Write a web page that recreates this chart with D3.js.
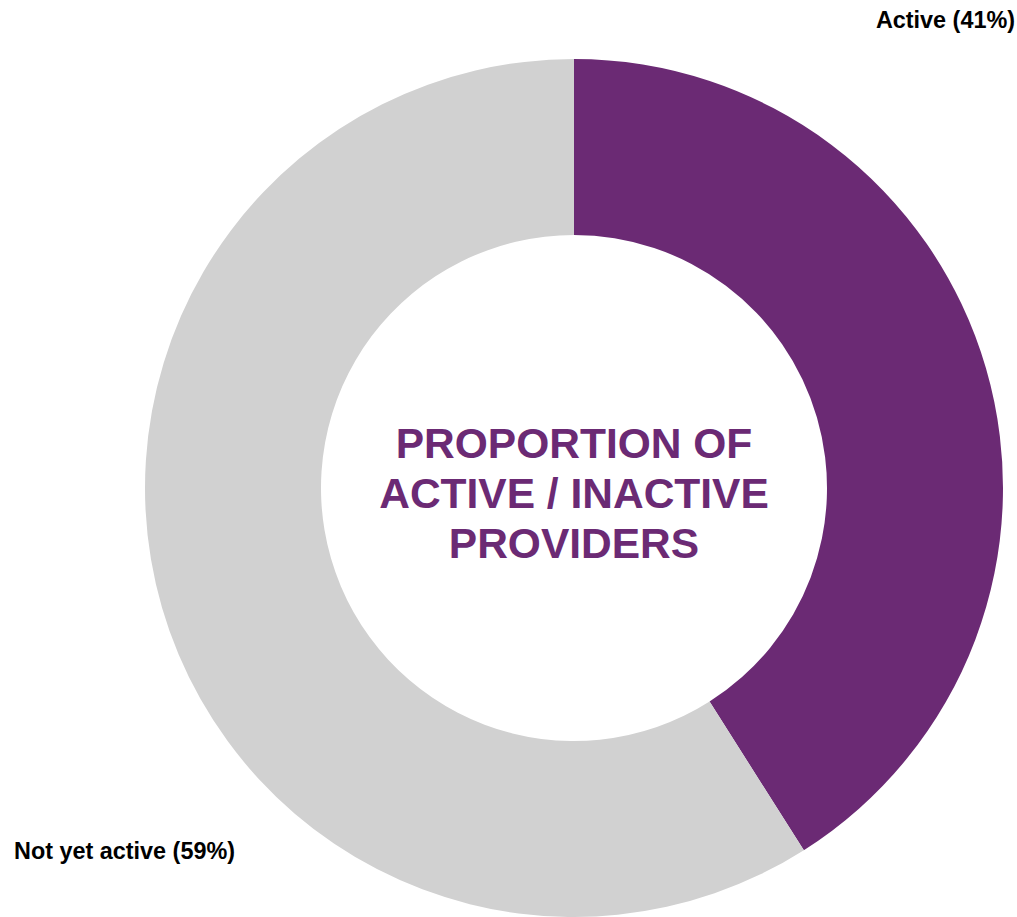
<!DOCTYPE html>
<html>
<head>
<meta charset="utf-8">
<script src="https://cdn.jsdelivr.net/npm/d3@7"></script>
<style>
  body { margin: 0; background: #fff; }
  svg text { font-family: "Liberation Sans", Arial, sans-serif; font-weight: bold; }
</style>
</head>
<body>
<svg id="chart" width="1017" height="917"></svg>
<script>
var categories = ['Active', 'Not yet active'];
var values = [41, 59];
var colors = ['#6B2A74', '#D1D1D1'];
var titleLines = ['PROPORTION OF', 'ACTIVE / INACTIVE', 'PROVIDERS'];

var width = 1017, height = 917;
var cx = 574, cy = 488;
var outerR = 429, innerR = 253;

var svg = d3.select('#chart');
var g = svg.append('g').attr('transform', 'translate(' + cx + ',' + cy + ')');

var pie = d3.pie().sort(null).value(function (d) { return d; });
var arc = d3.arc().innerRadius(innerR).outerRadius(outerR);

var data = pie(values);

g.selectAll('path')
    .data(data)
    .enter().append('path')
    .attr('d', arc)
    .attr('fill', function (d, i) { return colors[i]; });

// Slice labels
svg.append('text')
    .attr('x', 1015)
    .attr('y', 28)
    .attr('text-anchor', 'end')
    .style('font-size', '23.4px')
    .attr('fill', '#000')
    .text(categories[0] + ' (' + values[0] + '%)');

svg.append('text')
    .attr('x', 14)
    .attr('y', 859)
    .attr('text-anchor', 'start')
    .style('font-size', '23.4px')
    .attr('fill', '#000')
    .text(categories[1] + ' (' + values[1] + '%)');

// Centre title
g.selectAll('.title')
    .data(titleLines)
    .enter().append('text')
    .attr('class', 'title')
    .attr('x', 0)
    .attr('y', function (d, i) { return -30 + i * 50; })
    .attr('text-anchor', 'middle')
    .style('font-size', '42.5px')
    .attr('fill', '#6B2A74')
    .text(function (d) { return d; });
</script>
</body>
</html>
